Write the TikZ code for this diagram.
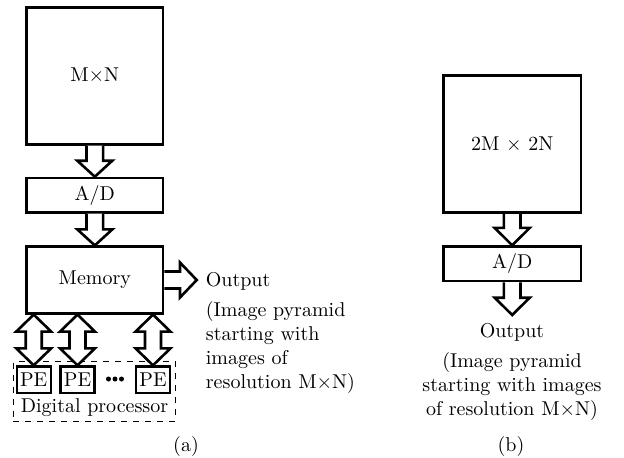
\documentclass[tikz,border=0pt]{standalone}
\usetikzlibrary{calc}
\newcommand\blkdown[3]{%
  \draw[blk] ($(#1)+(-8.3,0)$) -- ($(#2)+(-8.3,-#3)$) -- ($(#2)+(-17.5,-#3)$) -- (#2)
    -- ($(#2)+(17.5,-#3)$) -- ($(#2)+(8.3,-#3)$) -- ($(#1)+(8.3,0)$);}
\newcommand\blkdouble[2]{%
  \draw[blk] (#1) -- ($(#1)+(17.5,17)$) -- ($(#1)+(8,17)$) -- ($(#2)+(8,-17)$)
    -- ($(#2)+(17.5,-17)$) -- (#2) -- ($(#2)+(-17.5,-17)$) -- ($(#2)+(-8,-17)$)
    -- ($(#1)+(-8,17)$) -- ($(#1)+(-17.5,17)$) -- cycle;}
\begin{document}
\begin{tikzpicture}[x=0.5pt,y=-0.5pt,
  box/.style={draw,line width=1.3pt,inner sep=0pt},
  blk/.style={draw,line width=1.3pt,fill=white,line join=miter},
  pebox/.style={draw,line width=1.2pt,inner sep=0pt,minimum width=17pt,minimum height=13.2pt},
  dashbox/.style={draw,dashed,line width=0.5pt,inner sep=0pt},
  txt/.style={inner sep=0pt}]
\useasboundingbox (0,0) rectangle (624,457);
% (a)
\node[box,minimum width=68.2pt,minimum height=68.5pt] (mn) at (94.8,75.8) {M$\times$N};
\node[box,minimum width=68.2pt,minimum height=17.2pt] (ad) at (94.8,195.2) {A/D};
\node[box,minimum width=68.2pt,minimum height=33.3pt] (mem) at (94.8,280) {Memory};
\node[dashbox,minimum width=81pt,minimum height=29.6pt] (dp) at (94.4,391.4) {};
\node[pebox] (pe1) at (33.7,379.7) {PE};
\node[pebox] (pe2) at (77.5,379.7) {PE};
\node[pebox] (pe3) at (153,379.7) {PE};
\fill (108.5,379) circle (2.5) (115,379) circle (2.5) (121.5,379) circle (2.5);
\node[txt,anchor=base] (dpl) at (94.5,412) {Digital processor};
\blkdown{mn.south}{ad.north}{16}
\blkdown{ad.south}{mem.north}{16}
\blkdouble{pe1 |- mem.south}{pe1.north}
\blkdouble{pe2 |- mem.south}{pe2.north}
\blkdouble{pe3 |- mem.south}{pe3.north}
\coordinate (outtip) at (196.7,280);
\draw[blk] ($(mem.east)+(0,-8.5)$) -- ($(outtip)+(-16.7,-8.5)$) -- ($(outtip)+(-16.7,-17.5)$)
  -- (outtip) -- ($(outtip)+(-16.7,17.5)$) -- ($(outtip)+(-16.7,8.5)$) -- ($(mem.east)+(0,8.5)$);
\node[txt,anchor=north west,align=left] (outa) at (205.5,272.3)
  {Output\\[2.7pt](Image pyramid\\starting with\\images of\\resolution M$\times$N)};
\node (la) at (186,446) {(a)};
% (b)
\node[box,minimum width=68.8pt,minimum height=68.5pt] (mn2) at (512.2,144.2) {2M $\times$ 2N};
\node[box,minimum width=68.8pt,minimum height=17.2pt] (ad2) at (512.2,263.8) {A/D};
\blkdown{mn2.south}{ad2.north}{17.4}
\coordinate (outb) at (512.2,315);
\blkdown{ad2.south}{outb}{17.3}
\node[txt,anchor=north,align=center] (outbt) at (512,323.3)
  {Output\\[2.85pt](Image pyramid\\starting with images\\of resolution M$\times$N)};
\node (lb) at (511,446) {(b)};
\end{tikzpicture}
\end{document}
